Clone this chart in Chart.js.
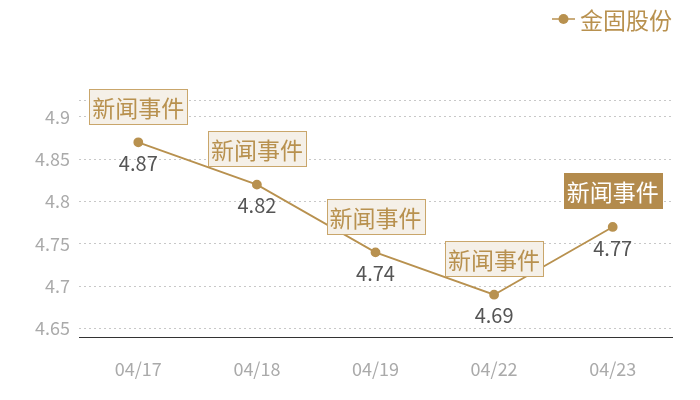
<!DOCTYPE html>
<html>
<head>
<meta charset="utf-8">
<script src="https://cdn.jsdelivr.net/npm/chart.js@4"></script>
<style>
  html, body { margin: 0; padding: 0; background: #fff; }
  #wrap { width: 700px; height: 400px; position: relative; }
</style>
</head>
<body>
<div id="wrap"><canvas id="lineChart"></canvas></div>
<script>
const dates = ['04/17', '04/18', '04/19', '04/22', '04/23'];
const prices = [4.87, 4.82, 4.74, 4.69, 4.77];
const yTicks = [4.65, 4.7, 4.75, 4.8, 4.85, 4.9];
const yMin = 4.64, yMax = 4.92;
const eventText = '新闻事件';
const activeEvent = 4;
const seriesName = '金固股份';

const gold = '#b8914f';
const font = '"Noto Sans CJK SC", "Noto Sans", sans-serif';

const pointLabels = {
  id: 'pointLabels',
  afterDatasetsDraw(chart) {
    const ctx = chart.ctx;
    const pts = chart.getDatasetMeta(0).data;
    ctx.save();
    pts.forEach((p, i) => {
      // value under the point
      ctx.font = '20px ' + font;
      ctx.fillStyle = '#555';
      ctx.textAlign = 'center';
      ctx.textBaseline = 'middle';
      ctx.fillText(prices[i].toFixed(2), p.x, p.y + 21);

      // event tag above
      ctx.font = '23px ' + font;
      const w = ctx.measureText(eventText).width + 6, h = 35;
      const bx = Math.round(p.x - w / 2) + 0.5, by = Math.round(p.y - 36 - h / 2) + 0.5;
      const on = i === activeEvent;
      ctx.fillStyle = on ? '#b38b4d' : '#f5f0e8';
      ctx.fillRect(bx, by, w, h);
      ctx.strokeStyle = on ? '#b38b4d' : '#c9a66b';
      ctx.lineWidth = 1;
      ctx.strokeRect(bx, by, w, h);
      ctx.fillStyle = on ? '#fff' : gold;
      ctx.fillText(eventText, p.x, by + h / 2 + 1);
    });
    ctx.restore();
  }
};

const topLegend = {
  id: 'topLegend',
  afterDraw(chart) {
    const ctx = chart.ctx;
    ctx.save();
    ctx.strokeStyle = gold;
    ctx.lineWidth = 1.5;
    ctx.beginPath();
    ctx.moveTo(552, 19); ctx.lineTo(575, 19);
    ctx.stroke();
    ctx.fillStyle = gold;
    ctx.beginPath();
    ctx.arc(563.5, 19, 5, 0, Math.PI * 2);
    ctx.fill();
    ctx.font = '23px ' + font;
    ctx.textAlign = 'left';
    ctx.textBaseline = 'middle';
    ctx.fillText(seriesName, 580, 20);
    ctx.restore();
  }
};

new Chart(document.getElementById('lineChart'), {
  type: 'line',
  data: {
    labels: dates,
    datasets: [{
      label: seriesName,
      data: prices,
      borderColor: gold,
      backgroundColor: gold,
      borderWidth: 1.8,
      pointRadius: 4,
      pointHoverRadius: 4,
      tension: 0
    }]
  },
  options: {
    responsive: true,
    maintainAspectRatio: false,
    animation: false,
    layout: { padding: { top: 100, right: 28, left: 0, bottom: 0 } },
    plugins: { legend: { display: false }, tooltip: { enabled: false } },
    scales: {
      x: {
        offset: true,
        grid: { display: false },
        border: { display: true, color: '#333', width: 1 },
        ticks: { color: '#aaa', font: { family: font, size: 18 }, padding: 13 },
        afterFit: s => { s.height = 63; }
      },
      y: {
        min: yMin,
        max: yMax,
        border: { display: false, dash: [2, 3] },
        grid: {
          color: ctx => (ctx.tick.value === yMin ? 'rgba(0,0,0,0)' : '#c8c8c8'),
          drawTicks: false
        },
        afterBuildTicks: s => {
          s.ticks = [yMin, ...yTicks, yMax].map(v => ({ value: v }));
        },
        ticks: {
          color: '#aaa',
          font: { family: font, size: 18 },
          padding: 9,
          callback: v => (yTicks.includes(v) ? String(v) : '')
        },
        afterFit: s => { s.width = 79; }
      }
    }
  },
  plugins: [pointLabels, topLegend]
});
</script>
</body>
</html>
